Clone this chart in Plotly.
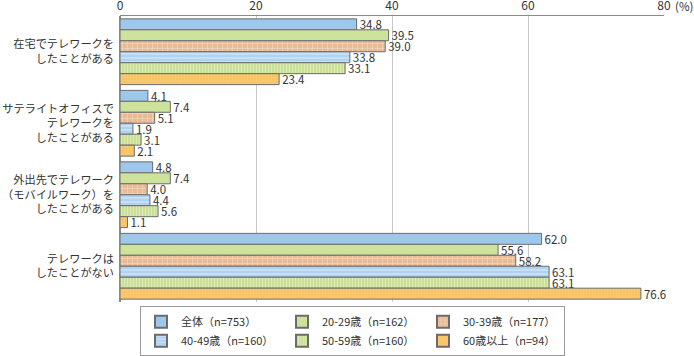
import plotly.graph_objects as go

categories = [
    "在宅でテレワークを<br>したことがある",
    "サテライトオフィスで<br>テレワークを<br>したことがある",
    "外出先でテレワーク<br>（モバイルワーク）を<br>したことがある",
    "テレワークは<br>したことがない",
]
series_names = ["全体（n=753）", "20-29歳（n=162）", "30-39歳（n=177）",
                "40-49歳（n=160）", "50-59歳（n=160）", "60歳以上（n=94）"]
v_all = [34.8, 4.1, 4.8, 62.0]
v_20s = [39.5, 7.4, 7.4, 55.6]
v_30s = [39.0, 5.1, 4.0, 58.2]
v_40s = [33.8, 1.9, 4.4, 63.1]
v_50s = [33.1, 3.1, 5.6, 63.1]
v_60s = [23.4, 2.1, 1.1, 76.6]
series_values = [v_all, v_20s, v_30s, v_40s, v_50s, v_60s]
x_ticks = [0, 20, 40, 60, 80]

colors = ["#9DC8EC", "#CDE29A", "#E9BB95", "#AFD2F1", "#C9E096", "#F8C365"]
patterns = [None, None,
            dict(shape="+", fgcolor="#FFFFFF", size=5, solidity=0.2),
            dict(shape="-", fgcolor="#FFFFFF", size=4, solidity=0.3),
            dict(shape="|", fgcolor="#EEF6D6", size=3, solidity=0.35),
            dict(shape="+", fgcolor="#FCD994", size=3, solidity=0.25)]

fig = go.Figure()
for name, vals, col, pat in zip(series_names, series_values, colors, patterns):
    marker = dict(color=col, line=dict(color="#6b6b6b", width=1))
    if pat:
        marker["pattern"] = dict(bgcolor=col, fillmode="overlay", **pat)
    fig.add_trace(go.Bar(
        y=categories, x=vals, orientation="h", name=name, marker=marker,
        text=[f"{v:.1f}" for v in vals], textposition="outside",
        cliponaxis=False,
        textfont=dict(size=11.5, color="#333333"),
    ))

fig.add_annotation(x=80, y=1, xref="x", yref="paper", text="(%)",
                   showarrow=False, xanchor="left", yanchor="bottom",
                   xshift=9, yshift=0, font=dict(size=11.5, color="#333333"))

fig.update_layout(
    width=694, height=356,
    margin=dict(l=120, r=30, t=16, b=54, autoexpand=False),
    barmode="group", bargap=0.08, bargroupgap=0,
    plot_bgcolor="white", paper_bgcolor="white",
    font=dict(family="Noto Sans CJK JP", size=12, color="#333333"),
    uniformtext=dict(minsize=11, mode="show"),
    xaxis=dict(side="top", range=[0, 80], tickvals=x_ticks,
               ticktext=[str(t) for t in x_ticks],
               showgrid=True, gridcolor="#c8c8c8", gridwidth=1,
               showline=True, linecolor="#8a8a8a", linewidth=1,
               ticks="", zeroline=True, zerolinecolor="#8a8a8a",
               tickfont=dict(size=12), automargin=False),
    yaxis=dict(autorange="reversed", showline=False, ticks="",
               tickfont=dict(size=11.2), ticklabelstandoff=5,
               automargin=False),
    legend=dict(orientation="h", x=0.4274, xanchor="center", y=-0.015,
                yanchor="top", xref="paper",
                bordercolor="#9a9a9a", borderwidth=1,
                entrywidth=96, entrywidthmode="pixels",
                font=dict(size=11), traceorder="normal",
                itemsizing="constant", tracegroupgap=0),
)

fig.write_html("out.html", config={"displayModeBar": False},
               post_script="document.body.style.margin='0px';document.body.style.padding='0px';")
